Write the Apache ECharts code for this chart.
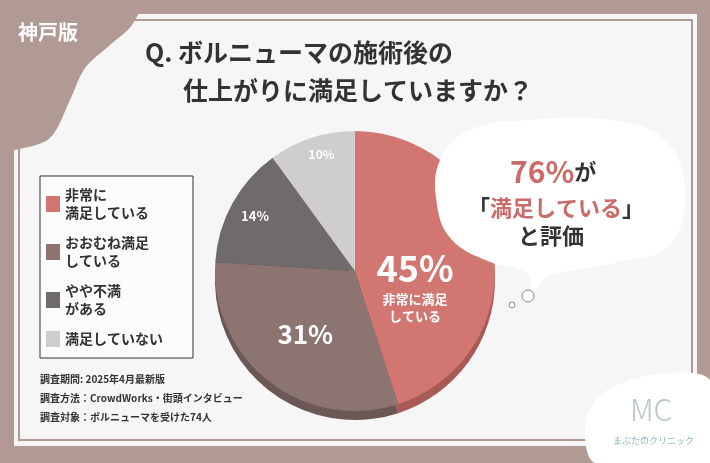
<!DOCTYPE html><html><head><meta charset="utf-8"><style>html,body{margin:0;padding:0;background:#b09a93}#c{width:710px;height:463px}</style>
<script src="https://cdn.jsdelivr.net/npm/echarts@6/dist/echarts.min.js"></script></head><body><div id="c"></div><script>
const categories=['非常に\n満足している','おおむね満足\nしている','やや不満\nがある','満足していない'];
const values=[45,31,14,10];
const labels=['45%','31%','14%','10%'];
const colors=['#d27671','#8c7471','#6f6a6b','#cfcdcd'];
const shadowColors=['#a85a56','#6b5856','#555051','#a8a6a6'];
const F='"Noto Sans CJK JP", sans-serif';
const chart=echarts.init(document.getElementById('c'));
const offsets=[[-12,26],[-5,5],[-36,-20],[-11,-47]];
const data=categories.map((n,i)=>({name:n,value:values[i],itemStyle:{color:colors[i]}}));
chart.setOption({
 backgroundColor:'#b09a93',
 graphic:[
  {type:'rect',shape:{x:14,y:14,width:683,height:432},style:{fill:'#f7f6f6'},z:-10},
  {type:'rect',shape:{x:19,y:20,width:673,height:420},style:{fill:'none',stroke:'#b09a93',lineWidth:2},z:-9},
  {type:'polygon',shape:{points:[[0,0],[140,0],[132,25],[110,45],[85,68],[70,100],[50,138],[15,150],[0,150]],smooth:0.3},style:{fill:'#b09a93'},z:-8},
  {type:'text',left:18,top:22,style:{text:'神戸版',fill:'#fff',font:'bold 20px '+F}},
  {type:'text',left:145,top:40,style:{text:'Q. ボルニューマの施術後の',fill:'#333',font:'bold 25px '+F}},
  {type:'text',left:183,top:78,style:{text:'仕上がりに満足していますか？',fill:'#333',font:'bold 25px '+F}},
  {type:'polygon',shape:{points:[[440,160],[470,130],[530,120],[610,120],[665,140],[685,190],[670,245],[620,262],[575,270],[545,278],[535,290],[525,272],[490,262],[452,240],[437,205]],smooth:0.4},style:{fill:'#fff'},z:5},
  {type:'circle',shape:{cx:528,cy:296,r:6},style:{fill:'#fff',stroke:'#888',lineWidth:1},z:5},
  {type:'circle',shape:{cx:512,cy:305,r:3},style:{fill:'#fff',stroke:'#888',lineWidth:1},z:5},
  {type:'text',left:510,top:157,style:{rich:{a:{fill:'#c96b68',font:'bold 30px '+F},b:{fill:'#333',font:'bold 22px '+F}},text:'{a|76%}{b|が}'},z:6},
  {type:'text',left:468,top:197,style:{rich:{a:{fill:'#c96b68',font:'bold 22px '+F},b:{fill:'#333',font:'bold 22px '+F}},text:'{b|「}{a|満足している}{b|」}'},z:6},
  {type:'text',left:518,top:225,style:{text:'と評価',fill:'#333',font:'bold 22px '+F},z:6},
  {type:'text',left:40,top:374,style:{text:'調査期間: 2025年4月最新版',fill:'#333',font:'bold 10px '+F}},
  {type:'text',left:40,top:393,style:{text:'調査方法：CrowdWorks・街頭インタビュー',fill:'#333',font:'bold 10px '+F}},
  {type:'text',left:40,top:412,style:{text:'調査対象：ボルニューマを受けた74人',fill:'#333',font:'bold 10px '+F}},
  {type:'polygon',shape:{points:[[600,395],[650,375],[710,380],[710,463],[595,463],[585,425]],smooth:0.3},style:{fill:'#fff'},z:5},
  {type:'text',left:630,top:395,style:{text:'MC',fill:'#b8c4c6',font:'300 30px '+F},z:6},
  {type:'text',left:613,top:436,style:{text:'まぶたのクリニック',fill:'#8fb6c8',font:'9px '+F},z:6}
 ],
 legend:{orient:'vertical',left:40,top:176,width:150,padding:[10,30,10,6],itemGap:12,itemWidth:14,itemHeight:16,icon:'rect',borderColor:'#333',borderWidth:1,backgroundColor:'rgba(255,255,255,0.6)',
  textStyle:{fontFamily:F,fontSize:14,fontWeight:'bold',color:'#333',lineHeight:18},data:categories},
 series:[
  {type:'pie',center:[355,280],radius:[0,140],startAngle:90,silent:true,label:{show:false},z:1,
   data:categories.map((n,i)=>({name:'s'+i,value:values[i],itemStyle:{color:shadowColors[i]}}))},
  {type:'pie',center:[355,271],radius:[0,140],startAngle:90,z:2,labelLine:{show:false},
   data:data.map((d,i)=>Object.assign({},d,{label:{show:true,position:'inside',offset:offsets[i],color:'#fff',fontFamily:F,fontWeight:'bold',
    formatter:i==0?'{a|45%}\n{b|非常に満足\nしている}':labels[i],
    fontSize:[36,26,13,12][i],
    rich:{a:{fontSize:36,fontWeight:'bold',color:'#fff',fontFamily:F,lineHeight:44},b:{fontSize:13,fontWeight:'bold',color:'#fff',fontFamily:F,lineHeight:17,align:'center'}}}}))}
 ]
});
</script></body></html>
